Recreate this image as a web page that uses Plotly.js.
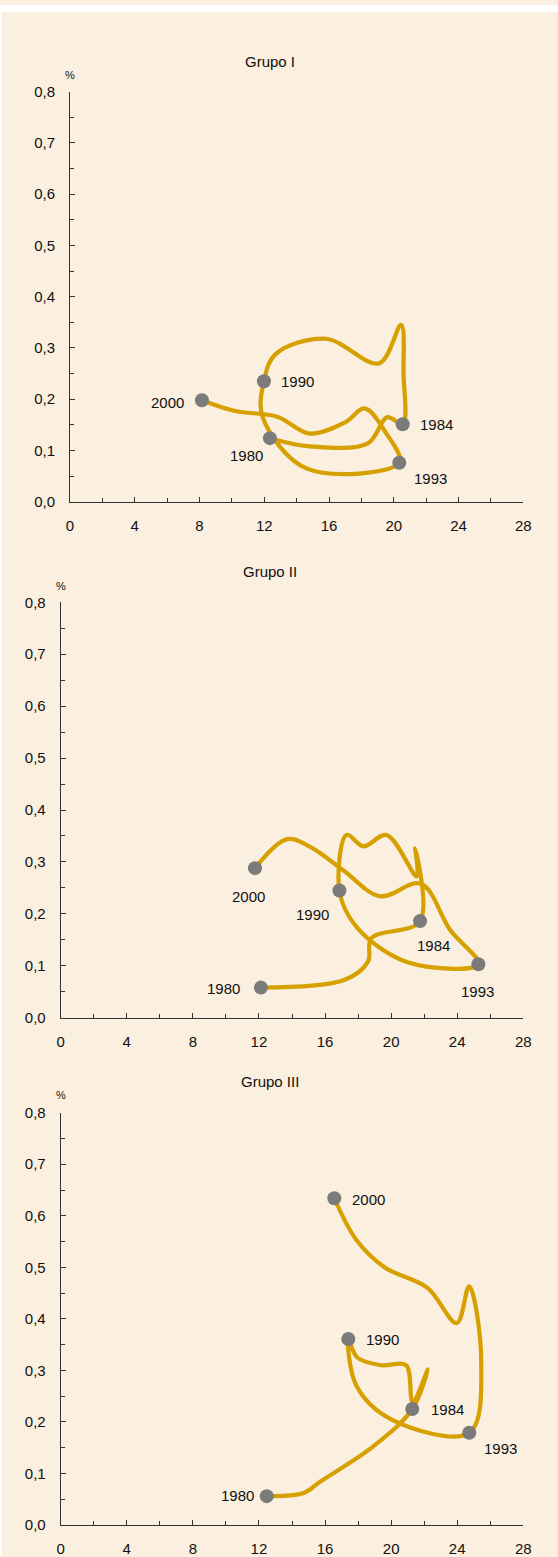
<!DOCTYPE html>
<html>
<head>
<meta charset="utf-8">
<script src="https://cdn.plot.ly/plotly-3.0.1.min.js"></script>
<style>
  html, body { margin: 0; padding: 0; background: #FBEFDF; }
  #chart { width: 558px; height: 1557px; }
</style>
</head>
<body>
<div id="chart"></div>
<script>
// ---------------- data ----------------
const years = [1980,1981,1982,1983,1984,1985,1986,1987,1988,1989,1990,
               1991,1992,1993,1994,1995,1996,1997,1998,1999,2000];
const labelYears = [1980, 1984, 1990, 1993, 2000];
const panelTitles = ["Grupo I", "Grupo II", "Grupo III"];
const xTickVals = [0, 4, 8, 12, 16, 20, 24, 28];
const yTickVals = [0, 0.1, 0.2, 0.3, 0.4, 0.5, 0.6, 0.7, 0.8];
const yUnit = "%";

const g1x = [12.35,14.8,18.4,19.6,20.55,20.6,20.45,19.1,15.8,12.7,11.98,
             11.9,14.6,20.34,19.5,18.2,17.0,14.8,12.8,10.2,8.15];
const g1y = [0.124,0.108,0.114,0.165,0.151,0.25,0.345,0.27,0.318,0.288,0.235,
             0.165,0.065,0.076,0.135,0.182,0.155,0.133,0.166,0.177,0.198];

const g2x = [12.12,17.2,18.6,18.8,21.75,21.45,21.55,19.73,18.32,17.31,16.87,
             17.9,21.0,25.28,23.57,21.8,19.33,17.1,15.1,13.7,11.76];
const g2y = [0.058,0.073,0.108,0.153,0.186,0.326,0.272,0.352,0.33,0.352,0.245,
             0.175,0.107,0.103,0.169,0.258,0.234,0.284,0.329,0.344,0.288];

const g3x = [12.47,14.7,15.7,18.9,21.28,22.22,21.3,20.9,19.4,17.95,17.41,
             17.9,20.0,24.73,25.45,24.72,23.97,22.2,19.6,17.9,16.56];
const g3y = [0.056,0.062,0.084,0.152,0.225,0.302,0.24,0.31,0.31,0.325,0.361,
             0.27,0.205,0.179,0.32,0.463,0.392,0.46,0.50,0.553,0.634];

// ---------------- styling ----------------
const W = 558, H = 1557;
const LINE = "rgb(214,160,0)";
const MARK = "#7b7b7b";
const AXC = "#333333";
const FONT = "Liberation Sans, Arial, sans-serif";

// pixel boxes of each plot area: [left, right, top, bottom]
const boxes = [
  [70, 523.3, 91.7, 501.7],
  [60.7, 523.3, 602.3, 1017.7],
  [60.7, 523.3, 1112.7, 1525]
];
const titleY = [62, 572, 1081];
const titleX = 270;
const pctY = [75, 586, 1095];

// label offsets [xshift, yshift] per panel for labelYears
const labelOffsets = [
  {1980:[-23,-17], 1984:[34,0], 1990:[34,0], 1993:[31,-16], 2000:[-34,-2]},
  {1980:[-37,-1], 1984:[13,-24], 1990:[-27,-24], 1993:[-1,-27], 2000:[-6,-28]},
  {1980:[-29,1], 1984:[35,0], 1990:[34,-1], 1993:[31,-16], 2000:[34,-1]}
];

const series = [[g1x, g1y], [g2x, g2y], [g3x, g3y]];

const traces = [];
const annotations = [];
const shapes = [];
const layout = {
  width: W, height: H,
  margin: {l:0, r:0, t:0, b:0},
  paper_bgcolor: "#FBEFDF",
  plot_bgcolor: "rgba(0,0,0,0)",
  separators: ",.",
  showlegend: false,
  font: {family: FONT, size: 15, color: "#111"},
  annotations: annotations,
  shapes: shapes
};

series.forEach((s, i) => {
  const n = i === 0 ? "" : String(i + 1);
  const xa = "x" + n, ya = "y" + n;
  const [l, r, t, b] = boxes[i];
  traces.push({
    type: "scatter", mode: "lines",
    x: s[0], y: s[1], xaxis: xa, yaxis: ya,
    line: {color: LINE, width: 4.2, shape: "spline", smoothing: 1},
    hoverinfo: "skip"
  });
  const mx = [], my = [];
  labelYears.forEach(yr => {
    const k = years.indexOf(yr);
    mx.push(s[0][k]); my.push(s[1][k]);
    annotations.push({
      xref: xa, yref: ya, x: s[0][k], y: s[1][k],
      text: String(yr), showarrow: false,
      xshift: labelOffsets[i][yr][0], yshift: labelOffsets[i][yr][1],
      font: {family: FONT, size: 15, color: "#111"}
    });
  });
  traces.push({
    type: "scatter", mode: "markers",
    x: mx, y: my, xaxis: xa, yaxis: ya,
    marker: {color: MARK, size: 14},
    hoverinfo: "skip"
  });
  const common = {
    showgrid: false, zeroline: false, showline: true,
    linecolor: AXC, linewidth: 1,
    ticks: "inside", tickcolor: AXC, tickwidth: 1, ticklen: 5,
    tickfont: {family: FONT, size: 15, color: "#111"},
    fixedrange: true
  };
  layout["xaxis" + n] = Object.assign({}, common, {
    anchor: ya,
    domain: [l / W, r / W],
    range: [0, 28],
    tickmode: "array", tickvals: xTickVals, ticktext: xTickVals.map(String),
    minor: {dtick: 2, ticks: "inside", ticklen: 4, tickcolor: AXC, tickwidth: 1, showgrid: false},
    ticklabelstandoff: 10
  });
  layout["yaxis" + n] = Object.assign({}, common, {
    anchor: xa,
    domain: [1 - b / H, 1 - t / H],
    range: [0, 0.8],
    tickmode: "array", tickvals: yTickVals,
    ticktext: yTickVals.map(v => v.toFixed(1).replace(".", ",")),
    minor: {dtick: 0.05, ticks: "inside", ticklen: 4, tickcolor: AXC, tickwidth: 1, showgrid: false},
    ticklabelstandoff: 11
  });
  annotations.push({
    xref: "paper", yref: "paper", x: titleX / W, y: 1 - titleY[i] / H,
    text: panelTitles[i], showarrow: false,
    xanchor: "center", yanchor: "middle",
    font: {family: FONT, size: 15, color: "#111"}
  });
  annotations.push({
    xref: "paper", yref: "paper", x: l / W, y: 1 - pctY[i] / H,
    text: yUnit, showarrow: false,
    xanchor: "center", yanchor: "middle",
    font: {family: FONT, size: 11, color: "#111"}
  });
});

// white band near the top and thin white left edge
shapes.push({type: "rect", xref: "paper", yref: "paper",
  x0: 0, x1: 1, y0: 1 - 12 / H, y1: 1 - 5 / H,
  fillcolor: "#ffffff", line: {width: 0}, layer: "below"});
shapes.push({type: "rect", xref: "paper", yref: "paper",
  x0: 0, x1: 1.5 / W, y0: 0, y1: 1 - 12 / H,
  fillcolor: "#ffffff", line: {width: 0}, layer: "below"});

Plotly.newPlot("chart", traces, layout, {staticPlot: true, displayModeBar: false});
</script>
</body>
</html>
